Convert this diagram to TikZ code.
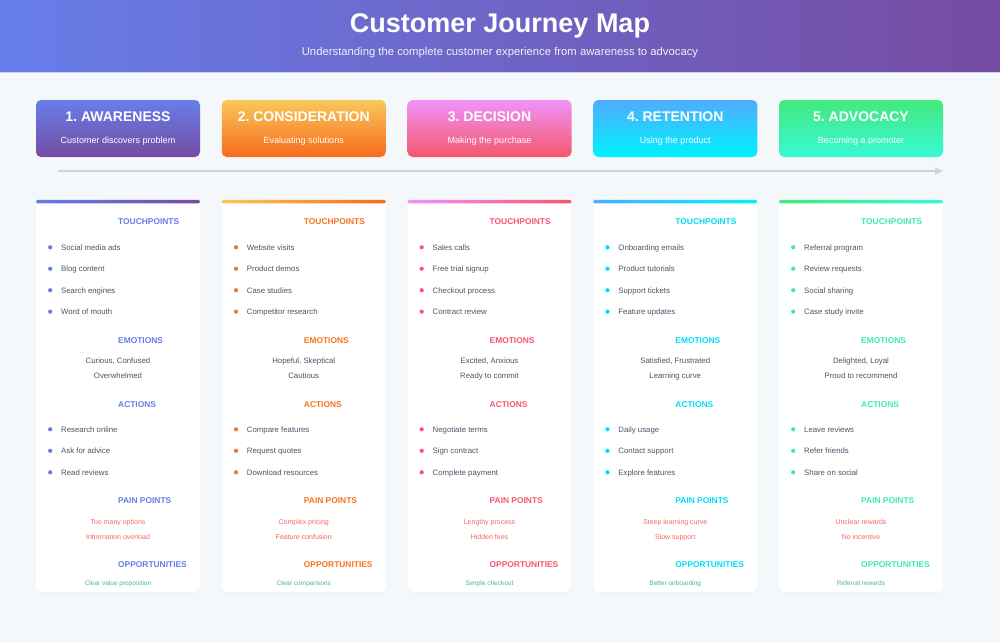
\documentclass[tikz,border=0pt]{standalone}
\usepackage{fontspec}
\setmainfont{Liberation Sans}
\frenchspacing
\usetikzlibrary{positioning,arrows.meta,shadows}

\definecolor{pagebg}{HTML}{F5F8FB}
\definecolor{headleft}{HTML}{667EEA}
\definecolor{headright}{HTML}{764BA2}
\definecolor{headedge}{HTML}{CDD2F4}
\definecolor{top1}{HTML}{667EEA}\definecolor{bot1}{HTML}{764BA2}\definecolor{acc1}{HTML}{667EEA}
\definecolor{top2}{HTML}{F9C85A}\definecolor{bot2}{HTML}{F76B1C}\definecolor{acc2}{HTML}{F8731F}
\definecolor{top3}{HTML}{F093FB}\definecolor{bot3}{HTML}{F5576C}\definecolor{acc3}{HTML}{F5576C}
\definecolor{top4}{HTML}{4FACFE}\definecolor{bot4}{HTML}{00F2FE}\definecolor{acc4}{HTML}{00DDF8}
\definecolor{top5}{HTML}{43E97B}\definecolor{bot5}{HTML}{38F9D7}\definecolor{acc5}{HTML}{3CE8B8}
\definecolor{bodytext}{HTML}{4A5568}
\definecolor{painred}{HTML}{F56565}
\definecolor{oppgreen}{HTML}{48BB78}
\definecolor{flowgray}{HTML}{CBD3DD}

\tikzset{
  stagebox/.style={rounded corners=5pt, minimum width=164pt, minimum height=57pt, inner sep=0pt},
  stagetitle/.style={text=white, inner sep=0pt, text height=10pt, text depth=0pt, font=\bfseries\fontsize{14}{16}\selectfont},
  stagesub/.style={text=white, inner sep=0pt, text height=6.5pt, text depth=0pt, font=\fontsize{9}{11}\selectfont},
  card/.style={fill=white, rounded corners=6pt, minimum width=164pt, minimum height=392pt, inner sep=0pt,
    drop shadow={opacity=0.06, shadow xshift=0pt, shadow yshift=-1pt}},
  heading/.style={anchor=west, inner sep=0pt, text height=6pt, text depth=0pt, font=\bfseries\fontsize{8.4}{10}\selectfont},
  itemtext/.style={anchor=west, inner sep=0pt, text height=5.6pt, text depth=0pt, text=bodytext, font=\fontsize{7.8}{9}\selectfont},
  bullet/.style={circle, inner sep=0pt, minimum size=4.2pt},
  emotext/.style={inner sep=0pt, text height=5.6pt, text depth=0pt, text=bodytext, font=\fontsize{7.8}{9}\selectfont},
  paintext/.style={inner sep=0pt, text height=5pt, text depth=0pt, text=painred, font=\fontsize{7}{8}\selectfont},
  opptext/.style={inner sep=0pt, text height=4.7pt, text depth=0pt, text=oppgreen, font=\fontsize{6.5}{8}\selectfont},
  flow/.style={draw=flowgray, line width=2pt, -{Triangle[length=8pt,width=7pt]}}
}

\begin{document}
\begin{tikzpicture}[x=1pt, y=-1pt]
\useasboundingbox (0,0) rectangle (1000,643);
\fill[pagebg] (0,0) rectangle (1000,643);

% header
\shade[left color=headleft, right color=headright] (0,0) rectangle (1000,72);
\draw[headedge, line width=1.5pt] (0,72.5) -- (1000,72.5);
\node[text=white, font=\bfseries\fontsize{27}{30}\selectfont] (maptitle) at (500,26) {Customer Journey Map};
\node[text=white, text opacity=0.9, font=\fontsize{11.3}{13}\selectfont] (mapsub) at (500,53)
  {Understanding the complete customer experience from awareness to advocacy};

% journey arrow
\coordinate (flowstart) at (58,171);
\coordinate (flowend) at (943,171);
\draw[flow] (flowstart) -- (flowend);

% stages and cards
\foreach \i/\ttl/\sub/\tps/\emos/\acts/\pains/\opp in {
  1/1. AWARENESS/Customer discovers problem/%
    {Social media ads,Blog content,Search engines,Word of mouth}/%
    {{Curious, Confused},Overwhelmed}/%
    {Research online,Ask for advice,Read reviews}/%
    {Too many options,Information overload}/Clear value proposition,
  2/2. CONSIDERATION/Evaluating solutions/%
    {Website visits,Product demos,Case studies,Competitor research}/%
    {{Hopeful, Skeptical},Cautious}/%
    {Compare features,Request quotes,Download resources}/%
    {Complex pricing,Feature confusion}/Clear comparisons,
  3/3. DECISION/Making the purchase/%
    {Sales calls,Free trial signup,Checkout process,Contract review}/%
    {{Excited, Anxious},Ready to commit}/%
    {Negotiate terms,Sign contract,Complete payment}/%
    {Lengthy process,Hidden fees}/Simple checkout,
  4/4. RETENTION/Using the product/%
    {Onboarding emails,Product tutorials,Support tickets,Feature updates}/%
    {{Satisfied, Frustrated},Learning curve}/%
    {Daily usage,Contact support,Explore features}/%
    {Steep learning curve,Slow support}/Better onboarding,
  5/5. ADVOCACY/Becoming a promoter/%
    {Referral program,Review requests,Social sharing,Case study invite}/%
    {{Delighted, Loyal},Proud to recommend}/%
    {Leave reviews,Refer friends,Share on social}/%
    {Unclear rewards,No incentive}/Referral rewards%
}{
  \pgfmathsetmacro\cx{118+(\i-1)*185.75}
  \pgfmathsetmacro\lx{\cx-57}
  \node[stagebox, top color=top\i, bottom color=bot\i] (stage\i) at (\cx,128.5) {};
  \node[stagetitle] (title\i) at (\cx,116) {\ttl};
  \node[stagesub] (sub\i) at (\cx,140) {\sub};
  \node[card] (card\i) at (\cx,396) {};
  \shade[left color=top\i, right color=bot\i, rounded corners=1.8pt]
    (card\i.north west) rectangle ([yshift=-3.6pt]card\i.north east);
  \foreach \hd/\hy [count=\h] in {TOUCHPOINTS/221.7, EMOTIONS/340, ACTIONS/404, PAIN POINTS/500, OPPORTUNITIES/564.3}
    \node[heading, text=acc\i] (head\i-\h) at (\cx,\hy) {\hd};
  \foreach \t [count=\k] in \tps {
    \node[itemtext] (tp\i-\k) at (\lx,{247.3+21.45*(\k-1)}) {\t};
    \node[bullet, fill=acc\i, left=8.5pt of tp\i-\k.west] (tpdot\i-\k) {};
  }
  \foreach \t [count=\k] in \emos
    \node[emotext] (emo\i-\k) at (\cx,{361+15*(\k-1)}) {\t};
  \foreach \t [count=\k] in \acts {
    \node[itemtext] (act\i-\k) at (\lx,{429.3+21.5*(\k-1)}) {\t};
    \node[bullet, fill=acc\i, left=8.5pt of act\i-\k.west] (actdot\i-\k) {};
  }
  \foreach \t [count=\k] in \pains
    \node[paintext] (pain\i-\k) at (\cx,{522.3+14.4*(\k-1)}) {\t};
  \node[opptext] (opp\i) at (\cx,583.3) {\opp};
}
\end{tikzpicture}
\end{document}
